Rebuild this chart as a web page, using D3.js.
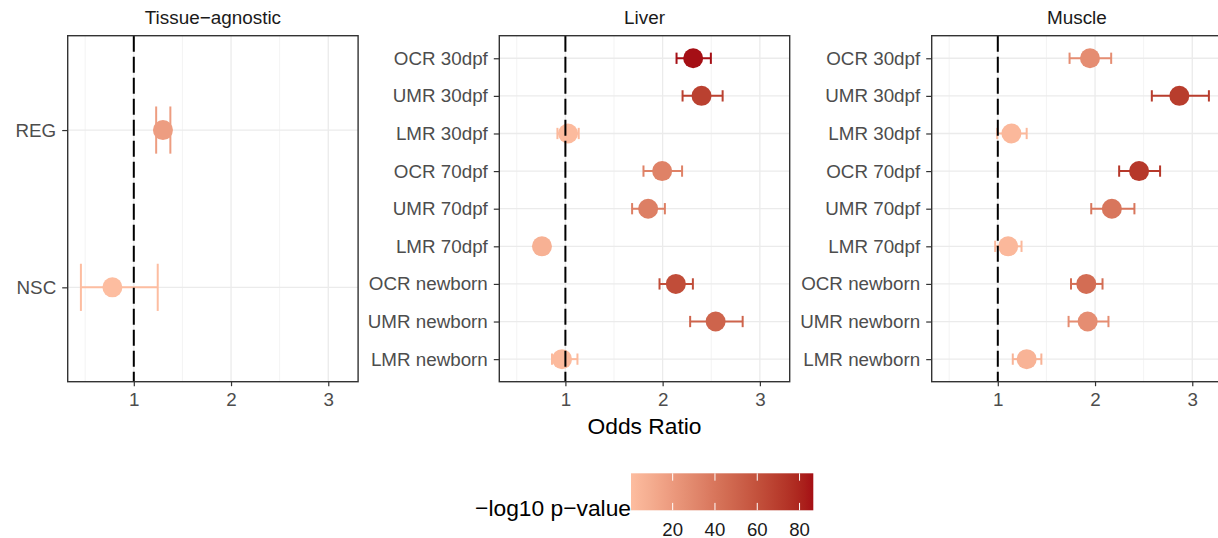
<!DOCTYPE html>
<html>
<head>
<meta charset="utf-8">
<script src="https://cdn.jsdelivr.net/npm/d3@7.9.0/dist/d3.min.js"></script>
<style>
  body { margin: 0; background: #fff; }
  svg { display: block; font-family: "Liberation Sans", Arial, Helvetica, sans-serif; }
</style>
</head>
<body>
<svg id="chart" width="1218" height="538"></svg>
<script>
// --- data ---
const panelTitles = ['Tissue\u2212agnostic', 'Liver', 'Muscle'];

const agnosticLabels = ['REG', 'NSC'];
const agnosticOR = [1.30, 0.78];
const agnosticLow = [1.23, 0.456];
const agnosticHigh = [1.376, 1.246];
const agnosticP = [18, 0.3];

const tissueLabels = ['OCR 30dpf', 'UMR 30dpf', 'LMR 30dpf', 'OCR 70dpf', 'UMR 70dpf',
  'LMR 70dpf', 'OCR newborn', 'UMR newborn', 'LMR newborn'];

const liverOR = [2.314, 2.40, 1.027, 1.995, 1.851, 0.759, 2.136, 2.545, 0.965];
const liverLow = [2.143, 2.205, 0.918, 1.803, 1.686, 0.70, 1.968, 2.283, 0.862];
const liverHigh = [2.496, 2.617, 1.137, 2.20, 2.023, 0.82, 2.311, 2.823, 1.124];
const liverP = [86.5, 68, 2, 33, 35, 7, 62, 50, 2];

const muscleOR = [1.948, 2.867, 1.14, 2.453, 2.173, 1.106, 1.91, 1.924, 1.297];
const muscleLow = [1.738, 2.584, 0.994, 2.248, 1.961, 0.973, 1.753, 1.728, 1.154];
const muscleHigh = [2.166, 3.171, 1.297, 2.669, 2.405, 1.244, 2.077, 2.138, 1.448];
const muscleP = [27, 70, 3, 72, 40, 3, 45, 27, 6];

const xTicks = [1, 2, 3];
const xMinor = [0.5, 1.5, 2.5];
const legendTicks = [20, 40, 60, 80];

// build rows per panel
function rows(labels, or, lo, hi, p) {
  return labels.map((l, i) => ({ label: l, or: or[i], lo: lo[i], hi: hi[i], p: p[i] }));
}
const panels = [
  { title: panelTitles[0], labels: agnosticLabels, data: rows(agnosticLabels, agnosticOR, agnosticLow, agnosticHigh, agnosticP) },
  { title: panelTitles[1], labels: tissueLabels, data: rows(tissueLabels, liverOR, liverLow, liverHigh, liverP) },
  { title: panelTitles[2], labels: tissueLabels, data: rows(tissueLabels, muscleOR, muscleLow, muscleHigh, muscleP) },
];

const allRows = panels.flatMap(p => p.data);
const xMin = d3.min(allRows, d => d.lo), xMax = d3.max(allRows, d => d.hi);
const pad = (xMax - xMin) * 0.05;
const xDomain = [xMin - pad, xMax + pad];

const pExtent = d3.extent(allRows, d => d.p);
const color = d3.scaleLinear().domain(pExtent).range(['#FDBDA0', '#A50F15']).interpolate(d3.interpolateLab);

// --- layout ---
const panelLefts = [67.7, 499.3, 931.7];
const panelW = 290.4;
const plotTop = 35.7, plotBottom = 381.7;
const gridCol = '#EBEBEB';
const inkCol = '#333333';
const labelCol = '#4D4D4D';

const svg = d3.select('#chart');
svg.append('rect').attr('width', 1218).attr('height', 538).attr('fill', '#fff');

panels.forEach((panel, pi) => {
  const left = panelLefts[pi];
  const x = d3.scaleLinear().domain(xDomain).range([left, left + panelW]);
  const y = d3.scalePoint().domain(panel.labels).range([plotTop, plotBottom]).padding(0.6);
  const halfWhisker = y.step() * 0.15;

  const g = svg.append('g');

  // grid
  g.selectAll('.minor').data(xMinor).enter().append('line')
    .attr('x1', d => x(d)).attr('x2', d => x(d)).attr('y1', plotTop).attr('y2', plotBottom)
    .attr('stroke', gridCol).attr('stroke-width', 0.6);
  g.selectAll('.major').data(xTicks).enter().append('line')
    .attr('x1', d => x(d)).attr('x2', d => x(d)).attr('y1', plotTop).attr('y2', plotBottom)
    .attr('stroke', gridCol).attr('stroke-width', 1.3);
  g.selectAll('.hgrid').data(panel.labels).enter().append('line')
    .attr('x1', left).attr('x2', left + panelW).attr('y1', d => y(d)).attr('y2', d => y(d))
    .attr('stroke', gridCol).attr('stroke-width', 1.3);

  // error bars
  const eb = g.selectAll('.eb').data(panel.data).enter().append('g')
    .attr('stroke', d => color(d.p)).attr('stroke-width', 2).attr('fill', 'none');
  eb.append('line').attr('x1', d => x(d.lo)).attr('x2', d => x(d.hi))
    .attr('y1', d => y(d.label)).attr('y2', d => y(d.label));
  eb.append('line').attr('x1', d => x(d.lo)).attr('x2', d => x(d.lo))
    .attr('y1', d => y(d.label) - halfWhisker).attr('y2', d => y(d.label) + halfWhisker);
  eb.append('line').attr('x1', d => x(d.hi)).attr('x2', d => x(d.hi))
    .attr('y1', d => y(d.label) - halfWhisker).attr('y2', d => y(d.label) + halfWhisker);

  // points
  g.selectAll('.pt').data(panel.data).enter().append('circle')
    .attr('cx', d => x(d.or)).attr('cy', d => y(d.label)).attr('r', 10)
    .attr('fill', d => color(d.p));

  // reference line at OR = 1
  g.append('line').attr('x1', x(1)).attr('x2', x(1)).attr('y1', plotTop).attr('y2', plotBottom)
    .attr('stroke', '#000').attr('stroke-width', 2).attr('stroke-dasharray', '16,5');

  // border
  g.append('rect').attr('x', left).attr('y', plotTop).attr('width', panelW).attr('height', plotBottom - plotTop)
    .attr('fill', 'none').attr('stroke', inkCol).attr('stroke-width', 1.4);

  // axes
  const xa = g.append('g').attr('transform', `translate(0,${plotBottom})`)
    .call(d3.axisBottom(x).tickValues(xTicks).tickSize(4.5).tickPadding(6.8).tickFormat(d3.format('d')));
  const ya = g.append('g').attr('transform', `translate(${left},0)`)
    .call(d3.axisLeft(y).tickSize(5.5).tickPadding(6));
  [xa, ya].forEach(a => {
    a.select('.domain').remove();
    a.selectAll('.tick line').attr('stroke', inkCol).attr('stroke-width', 1.2);
    a.selectAll('.tick text').attr('fill', labelCol).attr('font-size', 18.8)
      .attr('font-family', '"Liberation Sans", Arial, sans-serif');
  });

  // strip title
  g.append('text').attr('x', left + panelW / 2).attr('y', 24).attr('text-anchor', 'middle')
    .attr('font-size', 18.9).attr('fill', '#1A1A1A').text(panel.title);

  if (pi === 1) {
    g.append('text').attr('x', left + panelW / 2).attr('y', 434).attr('text-anchor', 'middle')
      .attr('font-size', 22.8).attr('fill', '#000').text('Odds Ratio');
  }
});

// --- colour legend ---
const barX0 = 631, barX1 = 813.3, barY0 = 473.3, barY1 = 510.3;
const lx = d3.scaleLinear().domain(pExtent).range([barX0, barX1]);
const defs = svg.append('defs');
const grad = defs.append('linearGradient').attr('id', 'pgrad');
d3.range(0, 1.0001, 0.05).forEach(t => {
  grad.append('stop').attr('offset', t)
    .attr('stop-color', color(pExtent[0] + t * (pExtent[1] - pExtent[0])));
});
svg.append('rect').attr('x', barX0).attr('y', barY0).attr('width', barX1 - barX0).attr('height', barY1 - barY0)
  .attr('fill', 'url(#pgrad)');
const tickLen = (barY1 - barY0) / 5;
legendTicks.forEach(v => {
  svg.append('line').attr('x1', lx(v)).attr('x2', lx(v)).attr('y1', barY0).attr('y2', barY0 + tickLen)
    .attr('stroke', '#fff').attr('stroke-width', 1);
  svg.append('line').attr('x1', lx(v)).attr('x2', lx(v)).attr('y1', barY1 - tickLen).attr('y2', barY1)
    .attr('stroke', '#fff').attr('stroke-width', 1);
  svg.append('text').attr('x', lx(v)).attr('y', 535.5).attr('text-anchor', 'middle')
    .attr('font-size', 18.6).attr('fill', '#1A1A1A').text(v);
});
svg.append('text').attr('x', barX0).attr('y', 516).attr('text-anchor', 'end')
  .attr('font-size', 22.8).attr('fill', '#000').text('\u2212log10 p\u2212value');
</script>
</body>
</html>
